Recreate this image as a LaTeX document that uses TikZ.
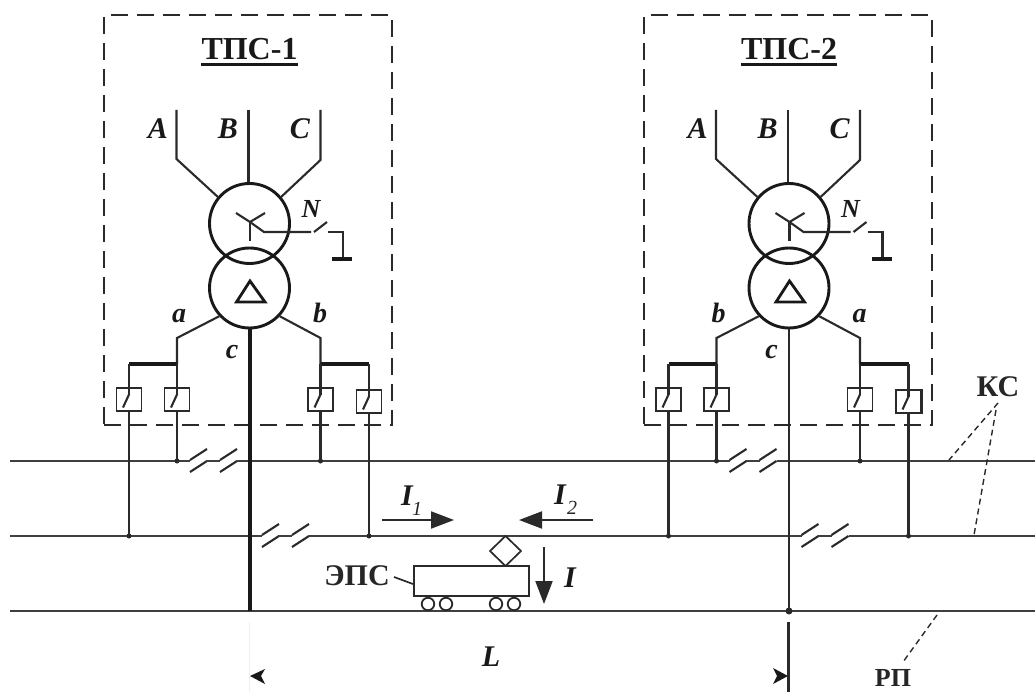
\documentclass[tikz,border=0pt]{standalone}
\usepackage{fontspec}
\setmainfont{Liberation Serif}
\usetikzlibrary{arrows.meta}
\definecolor{ink}{HTML}{2A2A2A}
\tikzset{
  wire/.style={draw=ink,line width=2.1pt},
  busline/.style={draw=ink!90,line width=2.4pt},
  heavy/.style={draw=black!90,line width=4pt},
  frame/.style={draw=ink,line width=2pt,dash pattern=on 17pt off 9pt},
  leader/.style={draw=ink,line width=1.4pt,dash pattern=on 6pt off 4pt},
  coil/.style={circle,draw=black!90,line width=2.9pt,minimum size=80pt,inner sep=0pt},
  swbox/.style={rectangle,draw=ink,line width=1.8pt,minimum width=25pt,minimum height=23pt,inner sep=0pt},
  wheel/.style={circle,draw=ink,line width=1.8pt,minimum size=12.5pt,inner sep=0pt},
  dotj/.style={circle,fill=ink,minimum size=5pt,inner sep=0pt},
  lab/.style={font=\fontsize{30}{32}\selectfont\bfseries\itshape,inner sep=0pt,text=black!90},
  minor/.style={font=\fontsize{28}{30}\selectfont\bfseries\itshape,inner sep=0pt,text=black!90,anchor=base},
  smalllab/.style={font=\fontsize{26}{28}\selectfont\bfseries\itshape,inner sep=0pt,text=black!90},
  subl/.style={font=\fontsize{20}{22}\selectfont\itshape,inner sep=0pt,text=black!85},
  title/.style={font=\fontsize{32}{34}\selectfont\bfseries,inner sep=0pt,text=black!90},
  caps/.style={font=\fontsize{30}{32}\selectfont\bfseries,inner sep=0pt,text=black!85},
  bigarrow/.style={draw=ink,line width=2pt,-{Triangle[length=23pt,width=17pt]}},
}
\newcommand{\dbrk}[3]{%
  \coordinate (#1s) at (#2,#3);
  \coordinate (#1m) at (#2+16,#3);
  \coordinate (#1n) at (#2+30,#3);
  \coordinate (#1e) at (#2+47,#3);
  \draw[wire] (#2,#3-1) -- (#2+17,#3-12);
  \draw[wire] (#2,#3+11) -- (#2+17,#3);
  \draw[busline] (#1m) -- (#1n);
  \draw[wire] (#2+30,#3-1) -- (#2+47,#3-12);
  \draw[wire] (#2+30,#3+11) -- (#2+47,#3);
}
% prefix shift title left-label right-label centre-style
\newcommand{\substation}[6]{%
\begin{scope}[xshift=#2pt,name prefix=#1-]
  \node[frame,rectangle,minimum width=288pt,minimum height=410pt,inner sep=0pt] (frame) at (248,220) {};
  \node[title] (title) at (249.5,49) {#3};
  \draw[draw=black!90,line width=3pt] (title.west |- 0,65) -- (title.east |- 0,65);
  \node[coil] (up) at (249.5,223.5) {};
  \node[coil] (low) at (249.5,288) {};
  \coordinate (A) at (176.5,110); \coordinate (Ab) at (176.5,159);
  \coordinate (B) at (248.5,110);
  \coordinate (C) at (320.5,110); \coordinate (Cb) at (320.5,160);
  \draw[wire] (A) -- (Ab) -- (up.140);
  \draw[wire] (B) -- (B |- up.north);
  \draw[wire] (C) -- (Cb) -- (up.40);
  \node[lab] (la) at (158,129) {A};
  \node[lab] (lb) at (228,129) {B};
  \node[lab] (lc) at (300,129) {C};
  \node[smalllab] (ln) at (311,209) {N};
  % star
  \coordinate (st) at (250,222);
  \draw[wire] (236,213) -- (st) -- (265,213);
  \draw[wire] (st) -- (250,241);
  \draw[wire] (st) -- (264,232) -- (311,232);
  \draw[wire] (314,232) -- (327,222);
  \coordinate (gt) at (328,232); \coordinate (gc) at (343,232); \coordinate (gb) at (343,259);
  \draw[wire] (gt) -- (gc) -- (gb);
  \draw[draw=black!90,line width=3.4pt] (332,259) -- (352,259);
  % delta
  \draw[draw=black!90,line width=2.8pt,line join=miter] (250,281) -- (265,302) -- (236.5,302) -- cycle;
  % secondary
  \coordinate (la1) at (177,338); \coordinate (la2) at (177,364);
  \coordinate (ra1) at (320.5,338); \coordinate (ra2) at (320.5,364);
  \coordinate (lb1) at (129,364); \coordinate (rb1) at (369,364);
  \draw[wire] (low.223) -- (la1) -- (la2);
  \draw[wire] (low.-43) -- (ra1) -- (ra2);
  \draw[draw=black!90,line width=3.4pt] (lb1) -- (la2);
  \draw[draw=black!90,line width=3.4pt] (ra2) -- (rb1);
  \node[minor] (ll) at (179,322) {#4};
  \node[minor] (lr) at (320,322) {#5};
  \node[minor] (lm) at (232,358) {c};
  % switches
  \node[swbox] (s1) at (129,399.5) {};
  \node[swbox] (s2) at (177,399.5) {};
  \node[swbox] (s3) at (320.5,399.5) {};
  \node[swbox] (s4) at (369,401.5) {};
  \coordinate (e1) at (129,536); \coordinate (e2) at (177,461);
  \coordinate (e3) at (320.5,461); \coordinate (e4) at (369,536);
  \foreach \i/\tp in {1/lb1,2/la2,3/ra2,4/rb1}{
    \path (s\i.center) ++(0,-5) coordinate (bl\i);
    \draw[wire] (\tp) -- (bl\i);
    \draw[wire] (s\i.center) ++(-6,8) -- (bl\i);
    \draw[wire] (s\i.south) -- (e\i);
    \node[dotj] at (e\i) {};
  }
  \coordinate (rail) at (249.5,611);
  \draw[#6] (low.south) -- (rail);
\end{scope}}
\begin{document}
\begin{tikzpicture}[x=1pt,y=-1pt]
\useasboundingbox (0,0) rectangle (1035,692);
\fill[white] (0,0) rectangle (1035,692);
% buses
\coordinate (b1L) at (10,461); \coordinate (b1R) at (1035,461);
\coordinate (b2L) at (10,536); \coordinate (b2R) at (1035,536);
\coordinate (b3L) at (10,611); \coordinate (b3R) at (1035,611);
\dbrk{p}{190}{461}
\dbrk{q}{729.5}{461}
\dbrk{r}{262}{536}
\dbrk{t}{801.5}{536}
\draw[busline] (b1L) -- (ps);
\draw[busline] (pe) -- (qs);
\draw[busline] (qe) -- (b1R);
\draw[busline] (b2L) -- (rs);
\draw[busline] (re) -- (ts);
\draw[busline] (te) -- (b2R);
\draw[busline] (b3L) -- (b3R);
\substation{T1}{0}{ТПС-1}{a}{b}{heavy}
\substation{T2}{539.5}{ТПС-2}{b}{a}{wire}
\draw[draw=ink,line width=3pt] (T2-s4.north east) -- (T2-s4.south east);
\node[dotj,minimum size=7pt] at (T2-rail) {};
% train
\node[rectangle,draw=ink,line width=2pt,minimum width=115pt,minimum height=30pt,inner sep=0pt] (car) at (471.5,581) {};
\node[wheel] (w1) at (428,604) {};
\node[wheel] (w2) at (446,604) {};
\node[wheel] (w3) at (496,604) {};
\node[wheel] (w4) at (514,604) {};
\coordinate (dt) at (505.5,536); \coordinate (dr) at (521,551);
\coordinate (db) at (505.5,566); \coordinate (dl) at (490,551);
\draw[draw=ink,line width=1.7pt] (dt) -- (dr) -- (db) -- (dl) -- cycle;
\node[caps] (eps) at (357,576) {ЭПС};
\coordinate (epsl) at (394,577);
\draw[draw=ink,line width=1.7pt] (epsl) -- (car.west |- 0,584);
% currents
\coordinate (i1a) at (382,520); \coordinate (i1b) at (454,520);
\coordinate (i2a) at (593,520); \coordinate (i2b) at (519,520);
\coordinate (i3a) at (544,547); \coordinate (i3b) at (544,604);
\draw[bigarrow] (i1a) -- (i1b);
\draw[bigarrow] (i2a) -- (i2b);
\draw[bigarrow] (i3a) -- (i3b);
\node[lab] (li1) at (407,496) {I};
\node[subl] (li1s) at (417,509) {1};
\node[lab] (li2) at (560,495) {I};
\node[subl] (li2s) at (572,508) {2};
\node[lab] (li3) at (570,578) {I};
\node[lab] (ll) at (491,657) {L};
% dimension
\coordinate (d1t) at (249,622); \coordinate (d1b) at (249,692);
\coordinate (d2t) at (788.5,622); \coordinate (d2b) at (788.5,692);
\draw[draw=black!6,line width=1pt] (d1t) -- (d1b);
\draw[wire] (d2t) -- (d2b);
\fill[black!90] (250,676) -- (265,669) -- (261,676) -- (265,684) -- cycle;
\fill[black!90] (788,676) -- (773,668) -- (777,676) -- (773,684) -- cycle;
% labels with leaders
\node[caps] (ks) at (998,387) {КС};
\coordinate (k1) at (949,460); \coordinate (k2) at (974,535);
\coordinate (ka) at (998,403); \coordinate (kb) at (996,410);
\draw[leader] (ka) -- (k1);
\draw[leader] (kb) -- (k2);
\node[caps,font=\fontsize{26}{26}\selectfont\bfseries] (rp) at (893,678) {РП};
\coordinate (rp1) at (937,615); \coordinate (rp2) at (903,662);
\draw[leader] (rp1) -- (rp2);
\end{tikzpicture}
\end{document}
